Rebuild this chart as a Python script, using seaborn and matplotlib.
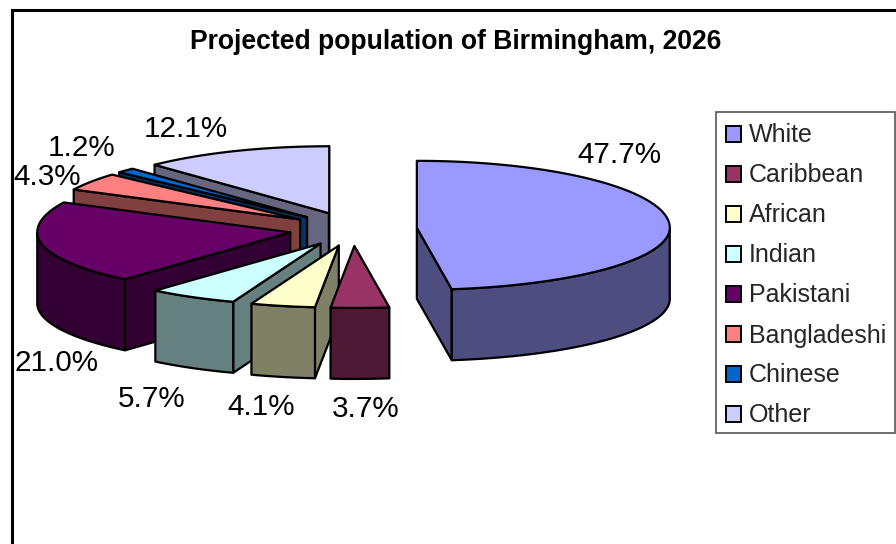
import numpy as np
import matplotlib
matplotlib.use("Agg")
import matplotlib.pyplot as plt
from matplotlib.patches import Patch, Polygon, Rectangle
import seaborn as sns

groups = ['White', 'Caribbean', 'African', 'Indian', 'Pakistani', 'Bangladeshi', 'Chinese', 'Other']
shares = [47.7, 3.7, 4.1, 5.7, 21.0, 4.3, 1.2, 12.1]
share_labels = ['47.7%', '3.7%', '4.1%', '5.7%', '21.0%', '4.3%', '1.2%', '12.1%']
top_colors = ['#9999FF', '#993366', '#FFFFCC', '#CCFFFF', '#660066', '#FF8080', '#0066CC', '#CCCCFF']
side_colors = ['#4D4D80', '#4D1A33', '#808066', '#668080', '#330033', '#804040', '#003366', '#666680']
label_xy = [(619, 155), (366, 409), (261, 407), (152, 399), (57, 363), (47, 177), (82, 148), (186, 129)]

# pie geometry in pixels
cx, cy = 353, 229
rx = 253
ry_back, ry_front = 67, 62
explode = 64
depth = 71

sns.set_theme(style="white")
plt.rcParams['font.family'] = ['Liberation Sans', 'DejaVu Sans']

fig = plt.figure(figsize=(8.96, 5.44), dpi=100)
ax = fig.add_axes([0, 0, 1, 1])
ax.set_xlim(0, 896)
ax.set_ylim(544, 0)
ax.axis('off')

ax.add_patch(Rectangle((11.5, 10), 1000, 1000, fc='white', ec='black', lw=2.2, zorder=0))
ax.text(456, 42, 'Projected population of Birmingham, 2026', ha='center', va='center',
        fontsize=19.1, fontweight='bold', color='black')


def point(ang, ox, oy):
    ry = ry_back if np.cos(ang) > 0 else ry_front
    return ox + rx * np.sin(ang), oy - ry * np.cos(ang)


def face(pts, color, z):
    ax.add_patch(Polygon(pts, closed=True, fc=color, ec='black', lw=1.6, joinstyle='round', zorder=z))


edges = np.cumsum([0] + shares) / sum(shares) * 2 * np.pi
mids = (edges[:-1] + edges[1:]) / 2
# paint from the back of the pie to the front
order = np.argsort(-np.cos(mids))
for z, i in enumerate(order):
    a, b, m = edges[i], edges[i + 1], mids[i]
    ox = cx + explode * np.sin(m)
    oy = cy - explode * ry_back / rx * np.cos(m)
    base = 10 + z * 5
    arc = np.linspace(a, b, 80)
    top = [point(t, ox, oy) for t in arc]
    down = lambda p: (p[0], p[1] + depth)
    if np.sin(a) < 0:
        face([(ox, oy), top[0], down(top[0]), (ox, oy + depth)], side_colors[i], base)
    if np.sin(b) > 0:
        face([(ox, oy), top[-1], down(top[-1]), (ox, oy + depth)], side_colors[i], base + 1)
    # outer wall only on the near half of the rim
    wall = [p for t, p in zip(arc, top) if np.cos(t) < 0]
    if len(wall) > 1:
        face(wall + [down(p) for p in wall[::-1]], side_colors[i], base + 2)
    face([(ox, oy)] + top, top_colors[i], base + 3)

for lab, (x, y) in zip(share_labels, label_xy):
    ax.text(x, y, lab, ha='center', va='center', fontsize=21.3, color='black', zorder=100)

# legend box drawn apart so the rows can sit where they do in the original
ax.add_patch(Rectangle((716, 112), 179, 321, fc='white', ec='#555555', lw=1.2, zorder=150))
handles = [Patch(fc=c, ec='black', lw=1.4) for c in top_colors]
leg = fig.legend(handles, groups, loc='upper left', bbox_to_anchor=(716 / 896, 1 - 114 / 544),
                 borderaxespad=0, fontsize=18, frameon=False,
                 labelspacing=0.64, handlelength=0.6, handleheight=0.6, handletextpad=0.32,
                 borderpad=0.38)
leg.set_zorder(200)

fig.savefig('out.png', dpi=100)
